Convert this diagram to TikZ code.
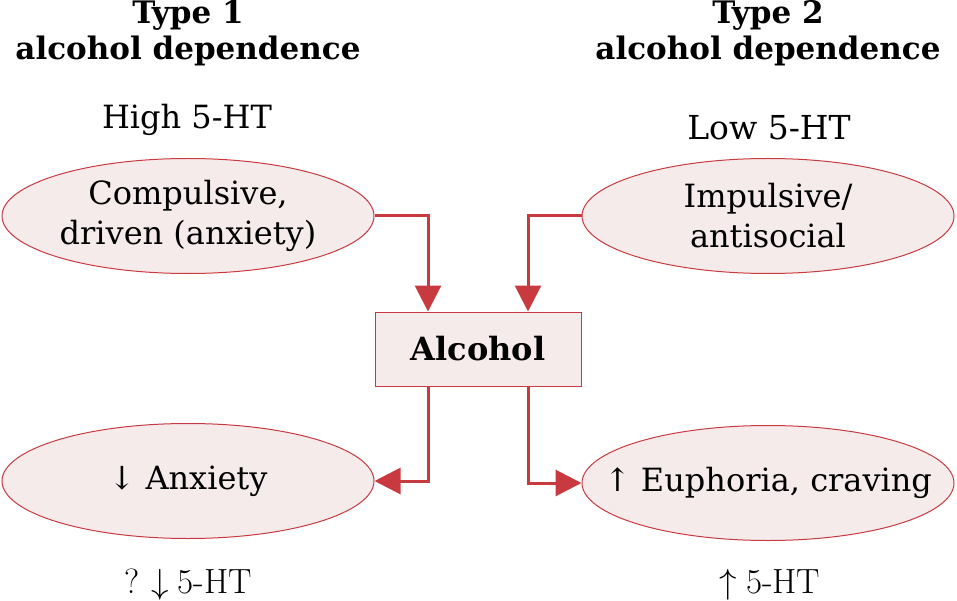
\documentclass[tikz,border=0pt]{standalone}
\usepackage{graphicx}
\usepackage{fontspec}
\newfontfamily\dv{DejaVu Serif}
\usetikzlibrary{shapes.geometric,arrows.meta,calc}
\definecolor{cred}{HTML}{C83A40}
\definecolor{cfill}{HTML}{F5EBEB}
\newcommand{\bigdn}{\scalebox{1.4}{$\downarrow$}}
\newcommand{\bigup}{\scalebox{1.4}{$\uparrow$}}
\begin{document}
\begin{tikzpicture}[x=1pt,y=-1pt,
  oval/.style={ellipse,draw=cred,fill=cfill,line width=1pt,minimum width=372pt,minimum height=115pt,inner xsep=-60pt,inner ysep=-10pt,align=center,font=\fontsize{32}{40}\selectfont\dv},
  abox/.style={rectangle,draw=cred,fill=cfill,line width=1pt,minimum width=206pt,minimum height=74pt,inner sep=0pt,font=\fontsize{32}{36}\selectfont\dv\bfseries},
  conn/.style={draw=cred,line width=3pt,-{Triangle[length=26pt,width=26pt]}},
  title/.style={align=center,inner sep=0pt,font=\fontsize{31}{36}\selectfont\dv\bfseries},
  lbl/.style={inner sep=0pt,font=\fontsize{32}{36}\selectfont\dv},
  blbl/.style={inner sep=0pt,font=\fontsize{35}{36}\selectfont}]
\useasboundingbox (0,0) rectangle (957,601);
\node[title] (t1) at (188,33) {Type 1\\alcohol dependence};
\node[title] (t2) at (768,33) {Type 2\\alcohol dependence};
\node[lbl] (h5) at (187,120) {High 5-HT};
\node[lbl,font=\fontsize{33}{36}\selectfont\dv] (l5) at (769,128) {Low 5-HT};
\node[oval] (e1) at (188,216) {Compulsive,\\driven (anxiety)};
\node[oval] (e2) at (768,216) {Impulsive/\\antisocial};
\node[abox] (alc) at (478,349) {Alcohol};
\node[oval] (e3) at (188,481) {↓ Anxiety};
\node[oval] (e4) at (768,483) {↑ Euphoria, craving};
\node[blbl] (b1) at (188,585) {?\kern12pt\bigdn\kern9pt5-HT};
\node[blbl] (b2) at (770,585) {\bigup\kern9pt5-HT};
\draw[conn] (e1.east) -| ([xshift=-50pt]alc.north);
\draw[conn] (e2.west) -| ([xshift=50pt]alc.north);
\draw[conn] ([xshift=-50pt]alc.south) |- (e3.east);
\draw[conn] ([xshift=50pt]alc.south) |- (e4.west);
\end{tikzpicture}
\end{document}
